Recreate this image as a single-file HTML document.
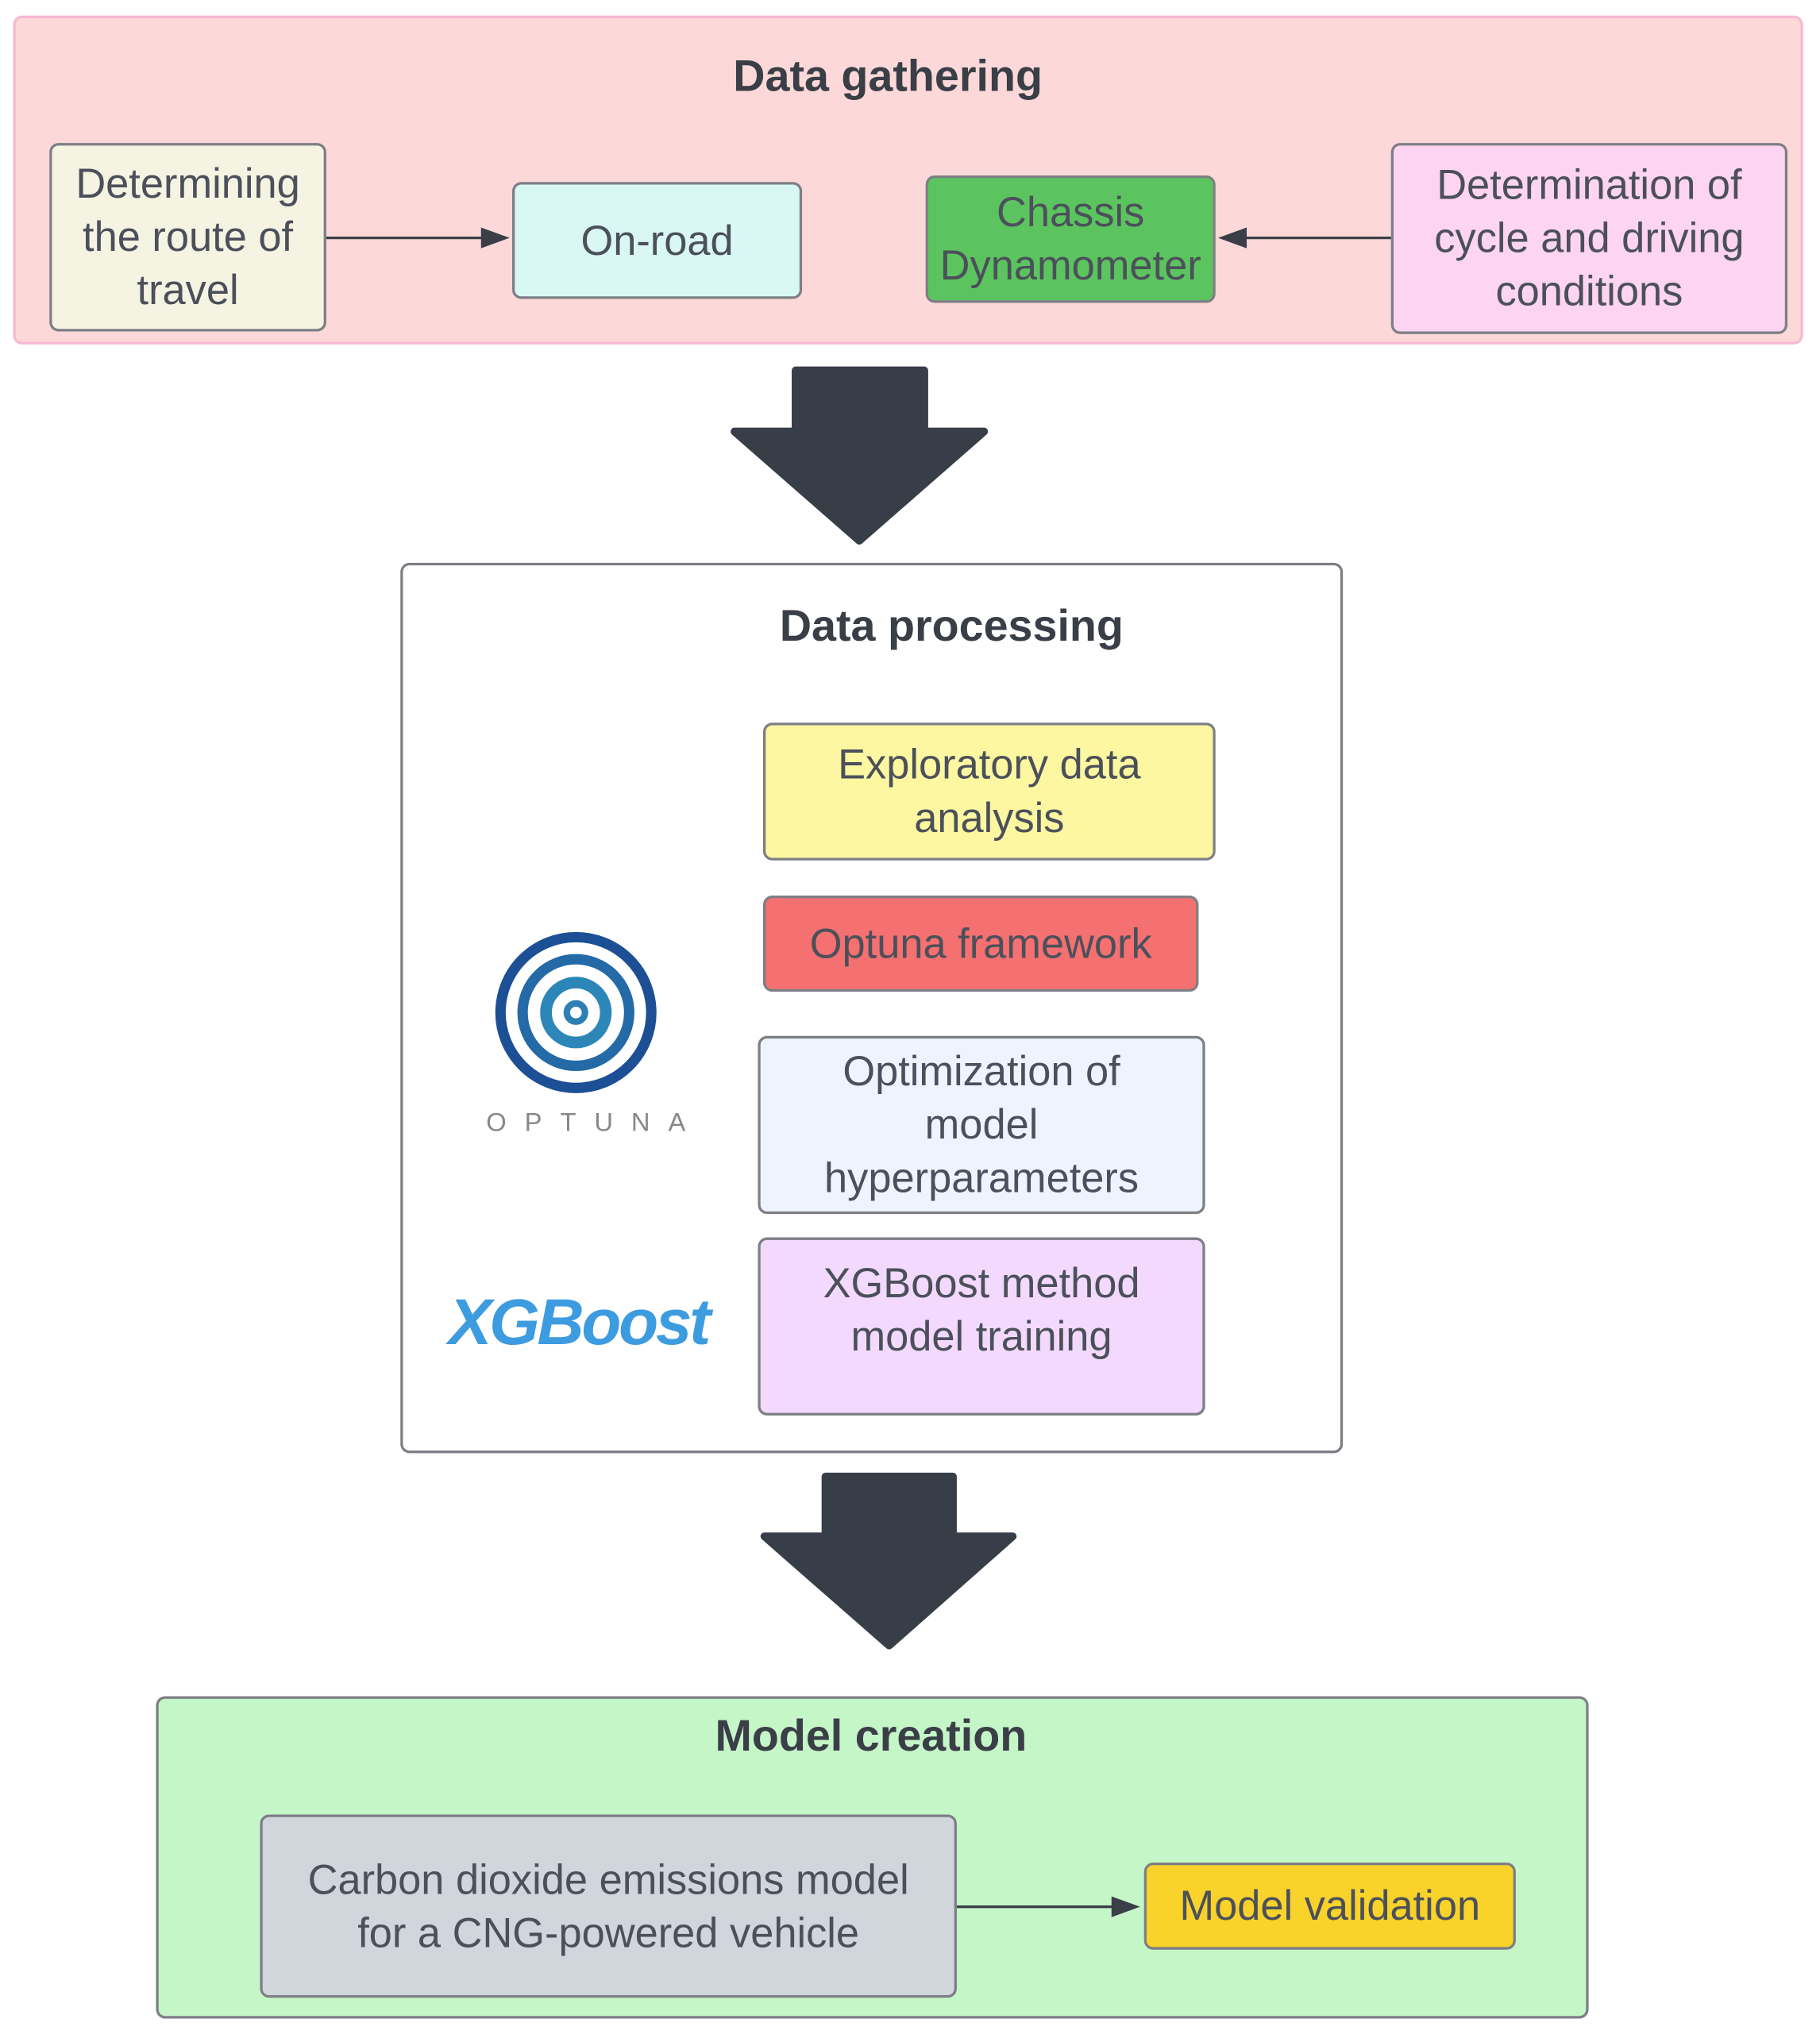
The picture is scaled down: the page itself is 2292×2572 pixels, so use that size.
<!DOCTYPE html>
<html><head><meta charset="utf-8"><style>
html,body{margin:0;padding:0;background:#fff;}
body{width:2292px;height:2572px;overflow:hidden;}
#s{position:absolute;left:0;top:0;width:1400px;height:1571px;transform:scale(1.63714);transform-origin:0 0;font-family:"Liberation Sans",sans-serif;}
.b{position:absolute;box-sizing:border-box;border:2px solid #7d7f85;border-radius:7px;display:flex;align-items:center;justify-content:center;text-align:center;color:#4b505a;font-size:32px;line-height:41px;}
.t{position:absolute;font-weight:bold;color:#3a3f47;font-size:34px;transform:translateX(-50%);white-space:nowrap;}
</style></head><body><div id="s">
<div class="b" style="left:10px;top:12px;width:1377px;height:253px;background:#fdd8d8;border-color:#f7b9d2;"></div>
<div class="t" style="left:683px;top:40px;">Data gathering</div>
<div class="b" style="left:38px;top:110px;width:213px;height:145px;background:#f5f3e2;">Determining the route of travel</div>
<div class="b" style="left:394px;top:140px;width:223px;height:90px;background:#d9f8f3;">On-road</div>
<div class="b" style="left:712px;top:135px;width:223px;height:98px;background:#5cc45f;">Chassis Dynamometer</div>
<div class="b" style="left:1070px;top:110px;width:305px;height:147px;background:#fdd4f1;">Determination of cycle and driving conditions</div>

<div class="b" style="left:308px;top:433px;width:725px;height:685px;background:#fff;"></div>
<div class="t" style="left:732px;top:463px;">Data processing</div>
<div class="b" style="left:587px;top:556px;width:348px;height:106px;background:#fcf7a0;">Exploratory data<br>analysis</div>
<div class="b" style="left:587px;top:689px;width:335px;height:74px;background:#f57070;">Optuna framework</div>
<div class="b" style="left:583px;top:797px;width:344px;height:137px;background:#eef4ff;">Optimization of<br>model<br>hyperparameters</div>
<div class="b" style="left:583px;top:952px;width:344px;height:137px;background:#f3d9fd;padding-bottom:26px;">XGBoost method<br>model training</div>
<div style="position:absolute;left:345px;top:988px;font-size:50px;font-weight:bold;font-style:italic;color:#3d9be0;letter-spacing:-2px;">XGBoost</div>
<div style="position:absolute;left:374px;top:853px;font-size:20px;color:#888;letter-spacing:14px;">OPTUNA</div>

<div class="b" style="left:120px;top:1305px;width:1102px;height:248px;background:#c5f6c8;"></div>
<div class="t" style="left:670px;top:1317px;">Model creation</div>
<div class="b" style="left:200px;top:1396px;width:536px;height:141px;background:#d1d5dc;">Carbon dioxide emissions model<br>for a CNG-powered vehicle</div>
<div class="b" style="left:880px;top:1433px;width:286px;height:67px;background:#f9d22a;">Model validation</div>

<svg width="1400" height="1571" style="position:absolute;left:0;top:0;">
<g stroke="#3a3f47" stroke-width="2" fill="#3a3f47">
<line x1="251" y1="183" x2="380" y2="183"/><polygon points="392,183 370,175 370,191" stroke="none"/>
<line x1="1070" y1="183" x2="950" y2="183"/><polygon points="937,183 959,175 959,191" stroke="none"/>
<line x1="736" y1="1467" x2="864" y2="1467"/><polygon points="877,1467 855,1459 855,1475" stroke="none"/>
</g>
<g fill="#383e48" stroke="#383e48" stroke-width="6" stroke-linejoin="round">
<polygon points="612,285 711,285 711,332 757,332 661,416 565,332 612,332"/>
<polygon points="635,1136 733,1136 733,1182 779,1182 684,1266 588,1182 635,1182"/>
</g>
<g fill="none">
<circle cx="443" cy="779" r="58" stroke="#1c4f94" stroke-width="8"/>
<circle cx="443" cy="779" r="41" stroke="#236aa6" stroke-width="8"/>
<circle cx="443" cy="779" r="23" stroke="#2d86b8" stroke-width="9"/>
<circle cx="443" cy="779" r="7" stroke="#2d7fb5" stroke-width="5"/>
</g>
</svg>
</div></body></html>
